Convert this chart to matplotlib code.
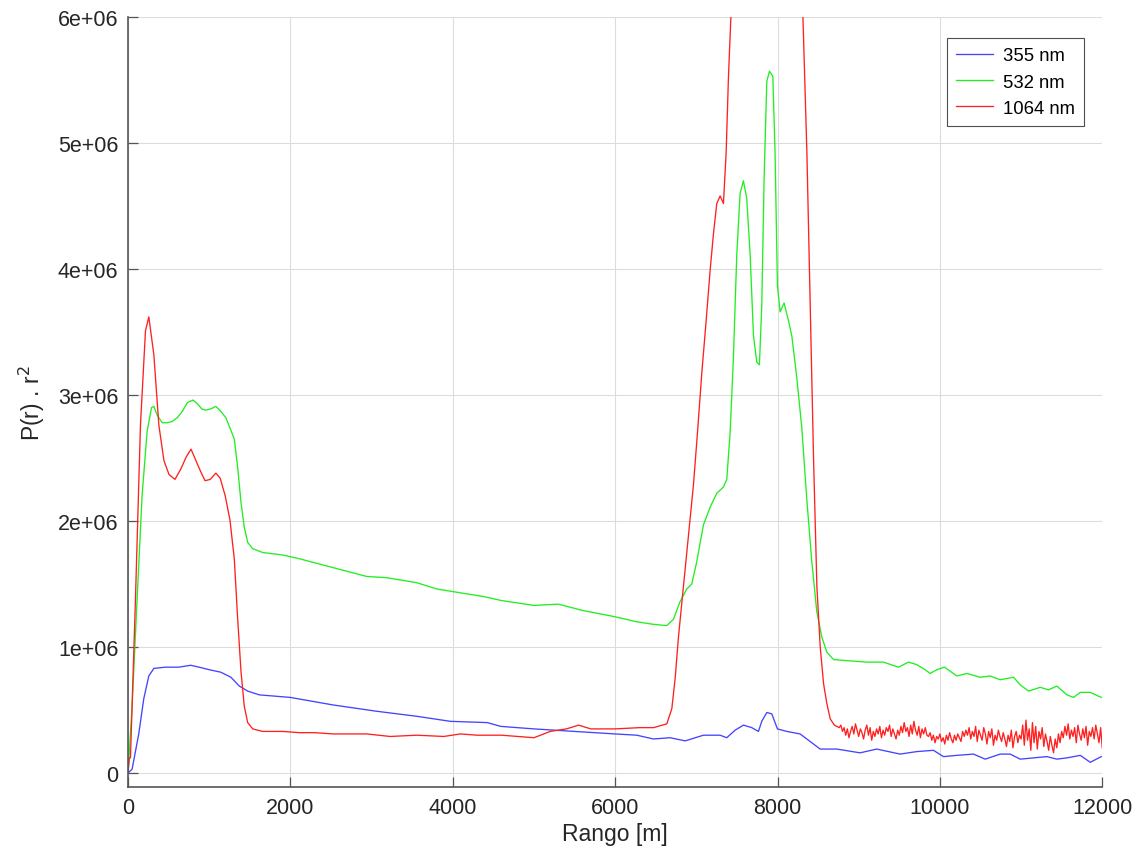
import matplotlib
matplotlib.use("Agg")
import matplotlib.pyplot as plt

plt.rcParams["font.family"] = ["Liberation Sans", "DejaVu Sans"]

# range [m] and P(r).r^2 [1e6]
x_355 = [0, 50, 132, 194, 256, 318, 462, 627, 772, 875, 999, 1143, 1267, 1370,
         1474, 1618, 1998, 2526, 3063, 3558, 3971, 4425, 4590, 5000, 5500, 6000,
         6267, 6472, 6677, 6862, 7088, 7293, 7375, 7478, 7580, 7683, 7765, 7806,
         7868, 7929, 7999, 8114, 8278, 8402, 8525, 8730, 9017, 9222, 9510, 9716,
         9921, 10044, 10209, 10414, 10558, 10743, 10866, 10989, 11153, 11317,
         11441, 11565, 11729, 11852, 11988]
y_355 = [0, 0.03, 0.31, 0.59, 0.77, 0.83, 0.84, 0.84, 0.855, 0.84, 0.82, 0.80,
         0.76, 0.69, 0.65, 0.62, 0.60, 0.54, 0.49, 0.45, 0.41, 0.40, 0.37, 0.35,
         0.33, 0.31, 0.30, 0.27, 0.28, 0.255, 0.30, 0.30, 0.28, 0.34, 0.38, 0.36,
         0.33, 0.41, 0.48, 0.47, 0.35, 0.33, 0.31, 0.25, 0.19, 0.19, 0.16, 0.19,
         0.15, 0.17, 0.18, 0.13, 0.14, 0.15, 0.11, 0.15, 0.15, 0.11, 0.12, 0.13,
         0.11, 0.12, 0.14, 0.085, 0.13]

x_532 = [0, 50, 111, 173, 235, 289, 318, 359, 421, 483, 545, 607, 669, 731, 801,
         855, 908, 958, 1020, 1082, 1143, 1205, 1267, 1309, 1350, 1391, 1432,
         1474, 1536, 1659, 1907, 2113, 2526, 2939, 3187, 3558, 3806, 4095, 4384,
         4590, 5000, 5300, 5600, 6000, 6267, 6472, 6636, 6718, 6800, 6882, 6944,
         7006, 7088, 7170, 7252, 7334, 7375, 7416, 7457, 7498, 7539, 7580, 7621,
         7663, 7704, 7745, 7777, 7806, 7835, 7868, 7901, 7942, 7970, 7999, 8032,
         8081, 8135, 8176, 8237, 8299, 8361, 8422, 8484, 8545, 8607, 8690, 8895,
         9100, 9305, 9490, 9613, 9716, 9818, 9880, 9963, 10057, 10209, 10332,
         10496, 10620, 10743, 10907, 10989, 11092, 11236, 11338, 11441, 11565,
         11647, 11729, 11852, 11988]
y_532 = [0, 0.53, 1.37, 2.20, 2.71, 2.90, 2.91, 2.84, 2.78, 2.78, 2.79, 2.82,
         2.87, 2.94, 2.96, 2.93, 2.89, 2.88, 2.89, 2.91, 2.87, 2.82, 2.72, 2.65,
         2.43, 2.15, 1.95, 1.83, 1.78, 1.75, 1.73, 1.70, 1.63, 1.56, 1.55, 1.51,
         1.46, 1.43, 1.40, 1.37, 1.33, 1.34, 1.29, 1.24, 1.20, 1.18, 1.17, 1.22,
         1.36, 1.46, 1.50, 1.68, 1.97, 2.11, 2.22, 2.27, 2.33, 2.70, 3.30, 4.11,
         4.60, 4.70, 4.56, 4.11, 3.47, 3.26, 3.24, 3.71, 4.72, 5.49, 5.57, 5.53,
         4.92, 3.87, 3.66, 3.73, 3.59, 3.47, 3.14, 2.74, 2.17, 1.68, 1.28, 1.08,
         0.96, 0.90, 0.89, 0.88, 0.88, 0.84, 0.88, 0.86, 0.82, 0.79, 0.82, 0.84,
         0.77, 0.79, 0.76, 0.77, 0.74, 0.76, 0.70, 0.65, 0.68, 0.66, 0.69, 0.62,
         0.60, 0.64, 0.64, 0.60]

x_1064_near = [0, 16, 30, 91, 153, 215, 256, 318, 380, 442, 504, 578, 648, 718,
               776, 842, 896, 949, 1011, 1082, 1135, 1197, 1255, 1309, 1350,
               1391, 1432, 1474, 1536, 1659, 1907, 2113, 2300, 2526, 2700, 2939,
               3228, 3558, 3889, 4095, 4301, 4600, 4800, 5000, 5200, 5400, 5550,
               5700, 6000, 6300, 6472, 6636, 6698, 6739, 6780, 6841, 6903, 6965,
               7014, 7068, 7121, 7170, 7211, 7252, 7293, 7334, 7367, 7396, 7425,
               7600, 7900, 8200, 8313, 8362, 8403, 8444, 8485, 8526, 8567, 8608,
               8649, 8700, 8760]
y_1064_near = [0, 0.12, 0.12, 1.37, 2.76, 3.51, 3.62, 3.32, 2.76, 2.48, 2.37,
               2.33, 2.41, 2.51, 2.57, 2.47, 2.39, 2.32, 2.33, 2.38, 2.34, 2.20,
               2.01, 1.70, 1.23, 0.81, 0.53, 0.40, 0.35, 0.33, 0.33, 0.32, 0.32,
               0.31, 0.31, 0.31, 0.29, 0.30, 0.29, 0.31, 0.30, 0.30, 0.29, 0.28,
               0.33, 0.35, 0.38, 0.35, 0.35, 0.36, 0.36, 0.39, 0.51, 0.75, 1.08,
               1.48, 1.89, 2.29, 2.70, 3.18, 3.59, 3.99, 4.28, 4.52, 4.58, 4.52,
               4.92, 5.53, 6.00, 8.50, 9.50, 8.00, 6.00, 4.92, 3.71, 2.49, 1.48,
               1.00, 0.71, 0.55, 0.43, 0.38, 0.36]

# noisy tail, one reading every 20 m from 8780 m to 12000 m
x_1064_far = list(range(8780, 12001, 20))
y_1064_far = [0.38, 0.33, 0.36, 0.30, 0.35, 0.28, 0.33, 0.37, 0.31, 0.39, 0.34,
              0.29, 0.35, 0.32, 0.27, 0.34, 0.38, 0.30, 0.36, 0.26, 0.33, 0.29,
              0.35, 0.31, 0.37, 0.28, 0.34, 0.30, 0.36, 0.33, 0.38, 0.29, 0.35,
              0.31, 0.27, 0.34, 0.30, 0.37, 0.32, 0.40, 0.33, 0.36, 0.29, 0.38,
              0.31, 0.41, 0.34, 0.30, 0.37, 0.28, 0.35, 0.31, 0.36, 0.30,
              0.29, 0.32, 0.26, 0.30, 0.24, 0.29, 0.27, 0.31, 0.25, 0.28, 0.23,
              0.30, 0.26, 0.32, 0.27, 0.24, 0.30, 0.26, 0.31, 0.28, 0.25, 0.33,
              0.29, 0.34,
              0.30, 0.36, 0.27, 0.33, 0.29, 0.37, 0.25, 0.34, 0.30, 0.26, 0.36,
              0.31, 0.23, 0.33, 0.28, 0.35, 0.22, 0.30, 0.26, 0.34, 0.29, 0.25,
              0.32, 0.27, 0.21, 0.30, 0.25, 0.34, 0.20, 0.29, 0.33, 0.24, 0.30,
              0.27,
              0.38, 0.22, 0.42, 0.26, 0.35, 0.18, 0.40, 0.24, 0.37, 0.19, 0.33,
              0.27, 0.36, 0.21, 0.31,
              0.25, 0.18, 0.29, 0.22, 0.16, 0.27, 0.20, 0.31, 0.24, 0.33, 0.28,
              0.37, 0.30, 0.39, 0.27, 0.34, 0.29, 0.36, 0.24, 0.38, 0.31, 0.26,
              0.35, 0.28, 0.37, 0.22, 0.33, 0.29, 0.36, 0.27, 0.38, 0.31, 0.24,
              0.36, 0.20]

x_1064 = x_1064_near + x_1064_far
y_1064 = y_1064_near + y_1064_far

series = [("355 nm", x_355, y_355, "#4444ff"),
          ("532 nm", x_532, y_532, "#22ee22"),
          ("1064 nm", x_1064, y_1064, "#ff2020")]

yticks = [0, 1e6, 2e6, 3e6, 4e6, 5e6, 6e6]
ytick_labels = ["0", "1e+06", "2e+06", "3e+06", "4e+06", "5e+06", "6e+06"]
xticks = [0, 2000, 4000, 6000, 8000, 10000, 12000]

fig = plt.figure(figsize=(11.36, 8.54), dpi=100)
ax = fig.add_axes([0.1127, 0.0773, 0.8576, 0.9016])

for label, xs, ys, c in series:
    ax.plot(xs, [v * 1e6 for v in ys], color=c, lw=0.95, label=label)

ax.set_xlim(0, 12000)
ax.set_ylim(-0.111e6, 6e6)
ax.set_xticks(xticks)
ax.set_xticklabels([str(t) for t in xticks])
ax.set_yticks(yticks)
ax.set_yticklabels(ytick_labels)
ax.grid(True, color="#dcdcdc", lw=0.8)
ax.set_axisbelow(True)
for s in ["top", "right"]:
    ax.spines[s].set_visible(False)
for s in ["left", "bottom"]:
    ax.spines[s].set_color("#555555")
    ax.spines[s].set_linewidth(1.2)
ax.tick_params(direction="in", length=7, width=0.9, color="#555555",
               labelsize=15.5, labelcolor="#262626", pad=7)

ax.set_xlabel("Rango [m]", fontsize=16.5, color="#262626", labelpad=3)
ax.set_ylabel("P(r) . r$^{2}$", fontsize=16.5, color="#262626", labelpad=8)

leg = ax.legend(loc="upper right", bbox_to_anchor=(0.9815, 0.9727),
                borderaxespad=0, fancybox=False, fontsize=13.3,
                handlelength=2.0, labelspacing=0.5, borderpad=0.5,
                handletextpad=0.55)
leg.get_frame().set_edgecolor("#222222")
leg.get_frame().set_linewidth(0.8)

fig.savefig("out.png", dpi=100)
